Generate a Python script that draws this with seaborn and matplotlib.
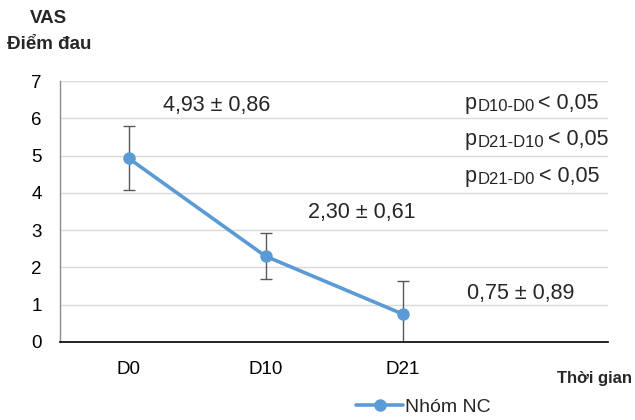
import matplotlib
matplotlib.use("Agg")
import matplotlib.pyplot as plt
import seaborn as sns
import pandas as pd

categories = ["D0", "D10", "D21"]
means = [4.93, 2.30, 0.75]
sds = [0.86, 0.61, 0.89]
mean_labels = ["4,93 ± 0,86", "2,30 ± 0,61", "0,75 ± 0,89"]
p_subs = ["D10-D0", "D21-D10", "D21-D0"]
p_rest = ["< 0,05", "< 0,05", "< 0,05"]
series_name = "Nhóm NC"
yticks = [0, 1, 2, 3, 4, 5, 6, 7]

sns.set_theme(style="white")
plt.rcParams["font.family"] = ["Liberation Sans", "DejaVu Sans"]

df = pd.DataFrame({"Thời gian": categories, "VAS": means, "Nhóm": series_name})

fig = plt.figure(figsize=(6.35, 4.2), dpi=100)
ax = fig.add_axes([0.0945, 0.186, 0.863, 0.621])

blue = "#5B9BD5"
pos = list(range(len(categories)))
ax.errorbar(pos, means, yerr=sds, fmt="none", ecolor="#595959", elinewidth=1.0,
            capsize=4.5, capthick=1.0, zorder=2, clip_on=True)
sns.lineplot(data=df, x="Thời gian", y="VAS", hue="Nhóm", palette=[blue],
             marker="o", markersize=9, markeredgewidth=0, linewidth=2.6,
             ax=ax, zorder=3, sort=False)

ax.set_xlim(-0.5, 3.5)
ax.set_ylim(0, 7)
ax.set_yticks(yticks)
ax.set_xticks(pos)
ax.set_xticklabels(categories)
ax.tick_params(axis="both", labelsize=13.5, colors="#000000", length=0)
ax.tick_params(axis="x", pad=14)
ax.tick_params(axis="y", pad=13)
ax.grid(axis="y", color="#D9D9D9", linewidth=1.0)
ax.set_axisbelow(True)
for s in ["top", "right"]:
    ax.spines[s].set_visible(False)
ax.spines["left"].set_color("#8C8C8C")
ax.spines["left"].set_linewidth(1.0)
ax.spines["bottom"].set_color("#000000")
ax.spines["bottom"].set_linewidth(1.2)
ax.set_xlabel("")
ax.set_ylabel("")

# mean ± sd annotations
ann_xy = [(0.646, 6.35), (1.70, 3.46), (2.86, 1.31)]
for (x, y), t in zip(ann_xy, mean_labels):
    ax.text(x, y, t, fontsize=15.5, ha="center", va="center")

# p-value annotations
p_y = [6.41, 5.42, 4.45]
for sub, rest, y in zip(p_subs, p_rest, p_y):
    pt = ax.text(2.456, y, "p", fontsize=15.5, ha="left", va="center")
    st = ax.annotate(sub, xy=(1, 0), xycoords=pt, xytext=(0.5, 0),
                     textcoords="offset points", fontsize=12, ha="left", va="bottom")
    ax.annotate(rest, xy=(1, 0), xycoords=(st, pt), xytext=(2.5, 0),
                textcoords="offset points", fontsize=15.5, ha="left", va="bottom")

fig.text(0.077, 0.957, "VAS", fontsize=13.5, fontweight="bold", ha="center", va="center")
fig.text(0.077, 0.893, "Điểm đau", fontsize=13.5, fontweight="bold", ha="center", va="center")
fig.text(0.996, 0.099, "Thời gian", fontsize=12, fontweight="bold", ha="right", va="center")

ax.legend_.remove()
handles, labels = ax.get_legend_handles_labels()
fig.legend(handles, [series_name], loc="center", bbox_to_anchor=(0.667, 0.031),
           frameon=False, fontsize=14, handlelength=2.4, handletextpad=0.1,
           borderpad=0.0)

fig.savefig("out.png", dpi=100)
